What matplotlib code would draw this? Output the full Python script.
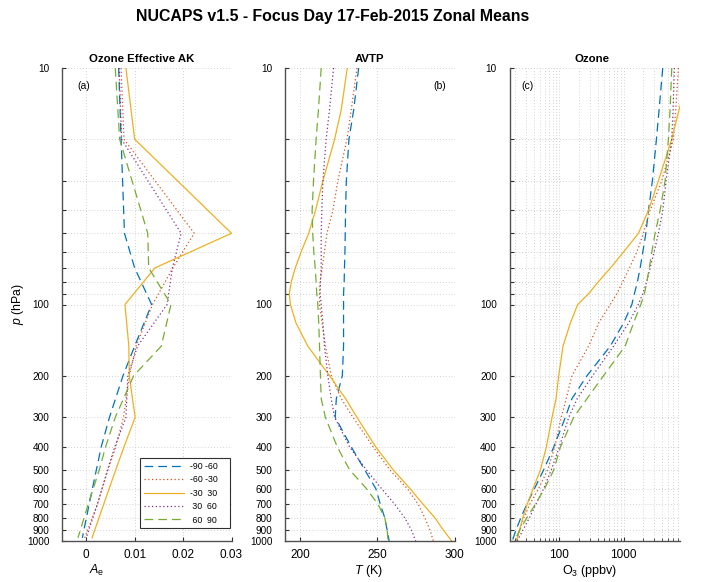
import numpy as np
import matplotlib
matplotlib.use("Agg")
import matplotlib.pyplot as plt
from matplotlib.ticker import FixedLocator, FixedFormatter, LogLocator, NullFormatter, NullLocator

plt.rcParams['font.family'] = ['Liberation Sans', 'DejaVu Sans']
plt.rcParams['mathtext.fontset'] = 'custom'
plt.rcParams['mathtext.rm'] = 'Liberation Sans'
plt.rcParams['mathtext.it'] = 'Liberation Sans:italic'

# ---------------- data ----------------
zones = ['-90 -60', '-60 -30', '-30  30', ' 30  60', ' 60  90']

# Panel (a): ozone effective averaging kernel
p_ak = [10, 20, 50, 70, 100, 150, 200, 300, 400, 500, 700, 970]
ak_s90_s60 = [0.0067, 0.0072, 0.0079, 0.0100, 0.0135, 0.0100, 0.0076, 0.0048, 0.0031, 0.0021, 0.0006, -0.0008]
ak_s60_s30 = [0.0072, 0.0078, 0.0223, 0.0179, 0.0137, 0.0103, 0.0089, 0.0077, 0.0061, 0.0045, 0.0023, -0.0003]
ak_s30_n30 = [0.0082, 0.0100, 0.0300, 0.0142, 0.0080, 0.0088, 0.0089, 0.0101, 0.0078, 0.0061, 0.0036, 0.0012]
ak_n30_n60 = [0.0068, 0.0073, 0.0196, 0.0178, 0.0167, 0.0106, 0.0086, 0.0082, 0.0059, 0.0044, 0.0023, 0.0000]
ak_n60_n90 = [0.0060, 0.0069, 0.0127, 0.0129, 0.0175, 0.0155, 0.0098, 0.0060, 0.0040, 0.0027, 0.0004, -0.0017]

# Panels (b) and (c) pressure levels
p_lev = [10, 15, 20, 30, 40, 50, 60, 70, 80, 90, 100, 120, 150, 200, 250, 300, 400, 500, 600, 700, 800, 900, 1000]

# Panel (b): temperature (K)
t_s90_s60 = [237.8, 234.6, 231.5, 229.8, 229.3, 229.1, 228.9, 228.6, 228.4, 228.0, 228.0, 228.0, 228.0, 227.2, 223.3, 222.6, 233.0, 241.7, 248.9, 251.9, 254.8, 256.3, 257.6]
t_s60_s30 = [236.7, 233.0, 230.2, 224.3, 221.1, 217.2, 215.6, 214.1, 212.8, 212.4, 212.4, 214.1, 216.3, 220.0, 226.5, 234.1, 247.2, 258.0, 269.3, 276.5, 280.8, 284.1, 286.3]
t_s30_n30 = [230.4, 226.5, 222.2, 214.6, 209.8, 205.4, 200.4, 196.7, 194.1, 192.8, 193.5, 197.2, 204.8, 218.9, 229.3, 236.7, 248.9, 260.2, 271.1, 279.7, 287.4, 292.8, 298.2]
t_n30_n60 = [221.5, 218.9, 216.7, 214.6, 213.9, 213.5, 213.5, 213.5, 213.0, 212.8, 213.5, 214.6, 215.6, 217.8, 220.0, 222.2, 231.9, 242.8, 252.6, 261.3, 267.8, 272.1, 274.8]
t_n60_n90 = [213.5, 211.7, 210.2, 208.5, 207.6, 208.0, 208.7, 209.6, 210.2, 210.6, 211.3, 211.9, 212.4, 213.0, 213.5, 216.2, 223.9, 231.9, 242.8, 250.4, 254.8, 256.3, 256.9]

# Panel (c): ozone (ppbv)
o3_s90_s60 = [4090, 3590, 3260, 2820, 2450, 2230, 2000, 1820, 1650, 1480, 1350, 1000, 621, 270, 157, 124, 82, 57, 41, 31, 25, 21, 18.4]
o3_s60_s30 = [7180, 6530, 6000, 3950, 2600, 2050, 1610, 1240, 977, 789, 621, 408, 286, 157, 128, 107, 84.5, 65.8, 47.6, 34.5, 27.9, 24.2, 21.4]
o3_s30_n30 = [11000, 7350, 5650, 3500, 2450, 1710, 1000, 628, 408, 286, 193, 148, 114, 97.7, 88.8, 76.9, 62.8, 50.7, 39, 31.5, 26.8, 23.9, 21.4]
o3_n30_n60 = [6210, 5930, 5650, 4610, 4100, 3500, 3000, 2600, 2310, 2000, 1700, 1200, 700, 330, 190, 140, 100, 75, 57, 43, 34, 27, 22]
o3_n60_n90 = [5650, 5320, 5010, 4450, 3720, 3110, 2760, 2530, 2310, 2120, 1860, 1430, 1060, 489, 270, 167, 104, 82, 59, 42, 31, 24, 20]

y_ticks = [10, 20, 30, 40, 50, 60, 70, 80, 90, 100, 200, 300, 400, 500, 600, 700, 800, 900, 1000]
y_labels = ['10', '', '', '', '', '', '', '', '', '100', '200', '300', '400', '500', '600', '700', '800', '900', '1000']

# ---------------- styles ----------------
colors = ['#0072BD', '#D95319', '#EDB120', '#7E2F8E', '#77AC30']
styles = [dict(dashes=(7, 4)), dict(dashes=(1, 2)), dict(linestyle='-'), dict(dashes=(1, 2)), dict(dashes=(7, 4))]
LW = 0.9
GRID = dict(color='#c4c4c4', linestyle=(0, (1, 2.5)), linewidth=0.6)

fig = plt.figure(figsize=(7.02, 5.82), dpi=100)
W, H = 702, 582
def pos(x0, x1, y0=68, y1=541):
    return [x0 / W, 1 - y1 / H, (x1 - x0) / W, (y1 - y0) / H]

axa = fig.add_axes(pos(62, 231.5))
axb = fig.add_axes(pos(285, 454.5))
axc = fig.add_axes(pos(509.5, 680))

def style_axis(ax):
    ax.set_yscale('log')
    ax.set_ylim(1000, 10)
    ax.yaxis.set_major_locator(FixedLocator(y_ticks))
    ax.yaxis.set_major_formatter(FixedFormatter(y_labels))
    ax.yaxis.set_minor_locator(NullLocator())
    for s in ['top', 'right']:
        ax.spines[s].set_visible(False)
    for s in ['left', 'bottom']:
        ax.spines[s].set_color('#505050')
        ax.spines[s].set_linewidth(1.0)
    ax.tick_params(axis='y', which='both', direction='in', length=3, width=0.8,
                   labelsize=7.2, pad=9, color='#303030')
    ax.tick_params(axis='x', which='major', direction='in', length=3, width=0.8,
                   labelsize=8.5, pad=6, color='#303030')
    ax.tick_params(axis='x', which='minor', direction='in', length=2, width=0.6, color='#303030')
    ax.grid(True, which='major', **GRID)
    ax.set_axisbelow(True)

# Panel (a)
ak_series = [ak_s90_s60, ak_s60_s30, ak_s30_n30, ak_n30_n60, ak_n60_n90]
for vals, c, st, lab in zip(ak_series, colors, styles, zones):
    axa.plot(vals, p_ak, color=c, lw=LW, label=lab + '    ', **st)
style_axis(axa)
axa.set_xlim(-0.005, 0.03)
axa.set_xticks([0, 0.01, 0.02, 0.03])
axa.set_xticklabels(['0', '0.01', '0.02', '0.03'])
axa.set_title('Ozone Effective AK', fontsize=8.2, fontweight='bold', pad=4, x=0.47)
axa.set_xlabel(r'$\mathit{A}_\mathrm{e}$', fontsize=9)
axa.xaxis.set_label_coords(0.207, -0.047)
axa.set_ylabel(r'$\mathit{p}$ (hPa)', fontsize=8.8)
axa.yaxis.set_label_coords(-0.215, 0.5)
axa.text(0.09, 0.962, '(a)', transform=axa.transAxes, fontsize=7.5, ha='left', va='center')
leg = axa.legend(loc='lower right', bbox_to_anchor=(0.994, 0.027), borderaxespad=0,
                 fontsize=6.3, handlelength=4.6, labelspacing=0.5, handletextpad=0.6,
                 borderpad=0.42, fancybox=False, framealpha=1, edgecolor='#303030')
leg.get_frame().set_linewidth(0.8)

# Panel (b)
t_series = [t_s90_s60, t_s60_s30, t_s30_n30, t_n30_n60, t_n60_n90]
for vals, c, st in zip(t_series, colors, styles):
    axb.plot(vals, p_lev, color=c, lw=LW, **st)
style_axis(axb)
axb.set_xlim(190, 300)
axb.set_xticks([200, 250, 300])
axb.set_title('AVTP', fontsize=8.2, fontweight='bold', pad=4)
axb.set_xlabel(r'$\mathit{T}$ (K)', fontsize=9)
axb.xaxis.set_label_coords(0.49, -0.047)
axb.text(0.915, 0.962, '(b)', transform=axb.transAxes, fontsize=7.5, ha='center', va='center')

# Panel (c)
o3_series = [o3_s90_s60, o3_s60_s30, o3_s30_n30, o3_n30_n60, o3_n60_n90]
for vals, c, st in zip(o3_series, colors, styles):
    axc.plot(vals, p_lev, color=c, lw=LW, **st)
style_axis(axc)
axc.set_xscale('log')
axc.set_xlim(16.7, 7600)
axc.xaxis.set_major_locator(FixedLocator([10, 100, 1000, 10000]))
axc.xaxis.set_major_formatter(FixedFormatter(['10', '100', '1000', '10000']))
axc.xaxis.set_minor_locator(LogLocator(base=10, subs=np.arange(2, 10)))
axc.xaxis.set_minor_formatter(NullFormatter())
axc.grid(True, which='minor', axis='x', **GRID)
axc.set_title('Ozone', fontsize=8.2, fontweight='bold', pad=4, x=0.485)
axc.set_xlabel(r'O$_3$ (ppbv)', fontsize=9)
axc.xaxis.set_label_coords(0.47, -0.047)
axc.text(0.07, 0.962, '(c)', transform=axc.transAxes, fontsize=7.5, ha='left', va='center')

fig.suptitle('NUCAPS v1.5 - Focus Day 17-Feb-2015 Zonal Means', fontsize=11.4,
             fontweight='bold', x=333 / W, y=1 - 17 / H, va='center')

fig.savefig('out.png', dpi=100)
